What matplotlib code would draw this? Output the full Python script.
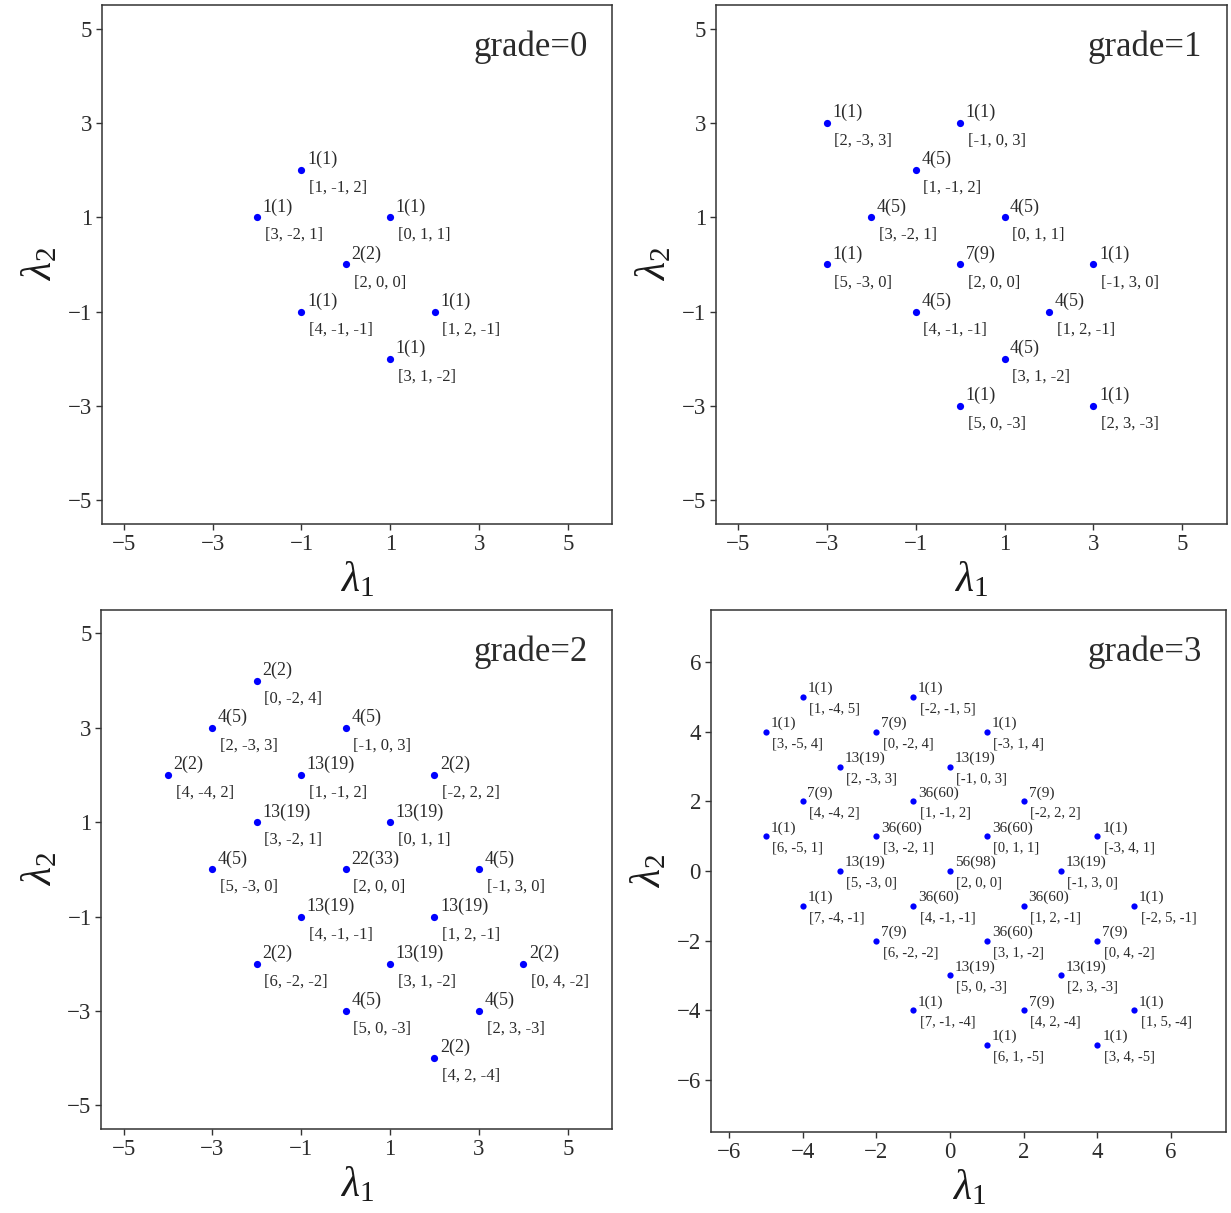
"""Redraw of the four weight-diagram panels (grade 0 to 3).

Each point is a weight [a, b, c]; it sits at (lambda_1, lambda_2) = (b, c)
and carries the label "count(total)" above it and the weight below it.
"""

import matplotlib as mpl
import matplotlib.pyplot as plt
import numpy as np


TEXT_GREY = "#2b2b2b"
DOT_BLUE = "blue"

# grade = 0
G0_WEIGHTS = [[1, -1, 2], [3, -2, 1], [0, 1, 1], [2, 0, 0],
              [4, -1, -1], [1, 2, -1], [3, 1, -2]]
G0_COUNT = [1, 1, 1, 2, 1, 1, 1]
G0_TOTAL = [1, 1, 1, 2, 1, 1, 1]

# grade = 1
G1_WEIGHTS = [[2, -3, 3], [-1, 0, 3], [1, -1, 2], [3, -2, 1], [0, 1, 1],
              [5, -3, 0], [2, 0, 0], [-1, 3, 0], [4, -1, -1], [1, 2, -1],
              [3, 1, -2], [5, 0, -3], [2, 3, -3]]
G1_COUNT = [1, 1, 4, 4, 4, 1, 7, 1, 4, 4, 4, 1, 1]
G1_TOTAL = [1, 1, 5, 5, 5, 1, 9, 1, 5, 5, 5, 1, 1]

# grade = 2
G2_WEIGHTS = [[0, -2, 4], [2, -3, 3], [-1, 0, 3], [4, -4, 2], [1, -1, 2],
              [-2, 2, 2], [3, -2, 1], [0, 1, 1], [5, -3, 0], [2, 0, 0],
              [-1, 3, 0], [4, -1, -1], [1, 2, -1], [6, -2, -2], [3, 1, -2],
              [0, 4, -2], [5, 0, -3], [2, 3, -3], [4, 2, -4]]
G2_COUNT = [2, 4, 4, 2, 13, 2, 13, 13, 4, 22, 4, 13, 13, 2, 13, 2, 4, 4, 2]
G2_TOTAL = [2, 5, 5, 2, 19, 2, 19, 19, 5, 33, 5, 19, 19, 2, 19, 2, 5, 5, 2]

# grade = 3
G3_WEIGHTS = [[1, -4, 5], [-2, -1, 5], [3, -5, 4], [0, -2, 4], [-3, 1, 4],
              [2, -3, 3], [-1, 0, 3], [4, -4, 2], [1, -1, 2], [-2, 2, 2],
              [6, -5, 1], [3, -2, 1], [0, 1, 1], [-3, 4, 1], [5, -3, 0],
              [2, 0, 0], [-1, 3, 0], [7, -4, -1], [4, -1, -1], [1, 2, -1],
              [-2, 5, -1], [6, -2, -2], [3, 1, -2], [0, 4, -2], [5, 0, -3],
              [2, 3, -3], [7, -1, -4], [4, 2, -4], [1, 5, -4], [6, 1, -5],
              [3, 4, -5]]
G3_COUNT = [1, 1, 1, 7, 1, 13, 13, 7, 36, 7, 1, 36, 36, 1, 13, 56, 13,
            1, 36, 36, 1, 7, 36, 7, 13, 13, 1, 7, 1, 1, 1]
G3_TOTAL = [1, 1, 1, 9, 1, 19, 19, 9, 60, 9, 1, 60, 60, 1, 19, 98, 19,
            1, 60, 60, 1, 9, 60, 9, 19, 19, 1, 9, 1, 1, 1]

ODD_TICKS = [-5, -3, -1, 1, 3, 5]
EVEN_TICKS = [-6, -4, -2, 0, 2, 4, 6]


def style_axis(ax):
    for spine in ax.spines.values():
        spine.set_linewidth(1.1)
        spine.set_color("#333333")
    ax.tick_params(direction="out", length=4, width=1.0, colors="#333333",
                   labelcolor=TEXT_GREY, labelsize=16.5, pad=3)


def draw_panel(ax, weights, count, total, grade, xlim, ylim, ticks,
               label_size, count_size, dot_size, top_off, bottom_off):
    w = np.asarray(weights)
    lam1, lam2 = w[:, 1], w[:, 2]
    ax.plot(lam1, lam2, "o", color=DOT_BLUE, markersize=dot_size,
            markeredgewidth=0, zorder=3)
    for x, y, wt, c, t in zip(lam1, lam2, weights, count, total):
        ax.annotate(f"{c}({t})", (x, y), xytext=top_off,
                    textcoords="offset points", ha="left", va="bottom",
                    fontsize=count_size, color=TEXT_GREY)
        ax.annotate("[" + ", ".join(str(v) for v in wt) + "]", (x, y),
                    xytext=bottom_off, textcoords="offset points",
                    ha="left", va="top", fontsize=label_size, color=TEXT_GREY)

    ax.text(0.952, 0.902, f"grade={grade}", transform=ax.transAxes,
            ha="right", va="baseline", fontsize=25, color=TEXT_GREY)

    ax.set_xlim(*xlim)
    ax.set_ylim(*ylim)
    ax.set_xticks(ticks)
    ax.set_yticks(ticks)
    ax.set_xlabel(r"$\lambda_1$", fontsize=30, color="#1a1a1a", labelpad=4)
    ax.set_ylabel(r"$\lambda_2$", fontsize=30, color="#1a1a1a", labelpad=5)
    style_axis(ax)


def main():
    mpl.rcParams.update({
        "font.family": ["Liberation Serif", "DejaVu Serif"],
        "mathtext.fontset": "custom",
        "mathtext.rm": "Liberation Serif",
        "mathtext.it": "Liberation Serif:italic",
        "axes.unicode_minus": True,
    })

    fig = plt.figure(figsize=(12.31, 12.13), dpi=100)
    ax0 = fig.add_axes([0.0825, 0.5680, 0.4150, 0.4279])
    ax1 = fig.add_axes([0.5814, 0.5680, 0.4151, 0.4279])
    ax2 = fig.add_axes([0.0823, 0.0693, 0.4150, 0.4279])
    ax3 = fig.add_axes([0.5773, 0.0668, 0.4190, 0.4303])

    big = dict(label_size=12, count_size=13, dot_size=5.2,
               top_off=(4.0, 1.2), bottom_off=(5.5, -7.0))
    small = dict(label_size=10.5, count_size=11, dot_size=4.5,
                 top_off=(3.4, 1.2), bottom_off=(4.5, -4.0))

    draw_panel(ax0, G0_WEIGHTS, G0_COUNT, G0_TOTAL, 0, (-5.5, 6), (-5.5, 5.5),
               ODD_TICKS, **big)
    draw_panel(ax1, G1_WEIGHTS, G1_COUNT, G1_TOTAL, 1, (-5.5, 6), (-5.5, 5.5),
               ODD_TICKS, **big)
    draw_panel(ax2, G2_WEIGHTS, G2_COUNT, G2_TOTAL, 2, (-5.5, 6), (-5.5, 5.5),
               ODD_TICKS, **big)
    draw_panel(ax3, G3_WEIGHTS, G3_COUNT, G3_TOTAL, 3, (-6.5, 7.5), (-7.5, 7.5),
               EVEN_TICKS, **small)

    fig.savefig("out.png", dpi=100)
    plt.close(fig)


if __name__ == "__main__":
    main()
